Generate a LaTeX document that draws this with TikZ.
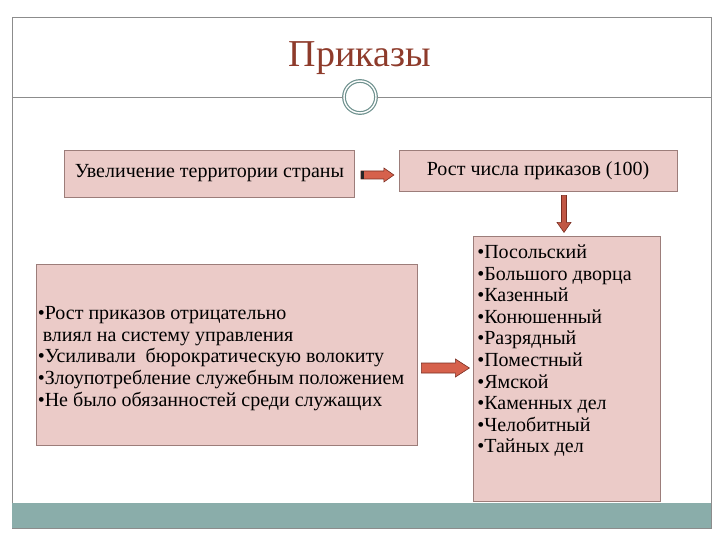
\documentclass[tikz,border=0pt]{standalone}
\usepackage{fontspec}
\setmainfont{Liberation Serif}
\usetikzlibrary{calc}
\definecolor{framec}{HTML}{8C8C8C}
\definecolor{bandc}{HTML}{8AADAA}
\definecolor{ornc}{HTML}{6E918E}
\definecolor{titlec}{HTML}{8E3B2B}
\definecolor{boxfill}{HTML}{EBCBC8}
\definecolor{boxline}{HTML}{9C7D7A}
\definecolor{arrfill}{HTML}{D6614C}
\definecolor{arrline}{HTML}{7A2E22}
\tikzset{
  pinkbox/.style={draw=boxline, fill=boxfill, line width=0.8pt, inner sep=0pt},
  boxtext/.style={font=\fontsize{20}{21.6}\selectfont, text=black},
  listtext/.style={font=\fontsize{20}{21.6}\selectfont, text=black, align=left, inner sep=0pt},
  arrowshape/.style={fill=arrfill, draw=arrline, line width=0.6pt, line join=miter},
}
\begin{document}
\begin{tikzpicture}[x=1pt,y=-1pt]
\useasboundingbox (0,0) rectangle (720,540);
% frame and band
\draw[framec, line width=0.8pt] (12,17) rectangle (711,528);
\fill[bandc] (12,503) rectangle (711,528);
% title
\node[font=\fontsize{38}{40}\selectfont, text=titlec] (title) at (360,58) {Приказы};
% header rule with ornament
\node[circle, draw=ornc, line width=1.2pt, double=white, double distance=1.4pt, fill=white, minimum size=32pt, inner sep=0pt] (orn) at (360,97) {};
\coordinate (hl) at (12,97);
\coordinate (hr) at (711,97);
\draw[framec, line width=0.9pt] (hl) -- (orn.west);
\draw[framec, line width=0.9pt] (orn.east) -- (hr);
% boxes
\node[pinkbox, boxtext, minimum width=290pt, minimum height=47pt] (b1) at (209.5,173.5) {Увеличение территории страны};
\node[pinkbox, boxtext, minimum width=278pt, minimum height=41pt] (b2) at (538,170.5) {Рост числа приказов (100)};
\node[pinkbox, minimum width=381pt, minimum height=181pt] (b4) at (226.5,354.5) {};
\node[pinkbox, minimum width=187pt, minimum height=265pt] (b3) at (567,368.5) {};
% texts in big boxes
\node[listtext, anchor=west] (t4) at ($(b4.west)+(2,4)$) {•Рост приказов отрицательно\\
\ влиял на систему управления\\
•Усиливали\ \ бюрократическую волокиту\\
•Злоупотребление служебным положением\\
•Не было обязанностей среди служащих};
\node[listtext, anchor=north west] (t3) at ($(b3.north west)+(4,9)$) {•Посольский\\
•Большого дворца\\
•Казенный\\
•Конюшенный\\
•Разрядный\\
•Поместный\\
•Ямской\\
•Каменных дел\\
•Челобитный\\
•Тайных дел};
% arrow 1: b1 -> b2
\coordinate (a1) at ($(b1.east)+(6,1.5)$);
\filldraw[arrowshape] (a1) ++(0,-4) -- ++(23,0) -- ++(0,-3) -- ++(10,7) -- ++(-10,7) -- ++(0,-3) -- ++(-23,0) -- cycle;
\fill[black!85] (a1) ++(0,-4) rectangle ++(3,8);
% arrow 2: b2 -> b3
\coordinate (a2) at ($(b2.south)+(26,4)$);
\filldraw[arrowshape, fill=arrfill!90!black] (a2) ++(-2.5,0) -- ++(0,27) -- ++(-4.5,0) -- ++(7,10) -- ++(7,-10) -- ++(-4.5,0) -- ++(0,-27) -- cycle;
% arrow 3: b4 -> b3
\coordinate (a3) at ($(b4.east)+(4,13.5)$);
\filldraw[arrowshape] (a3) ++(0,-5) -- ++(34,0) -- ++(0,-4) -- ++(14,9) -- ++(-14,9) -- ++(0,-4) -- ++(-34,0) -- cycle;
\end{tikzpicture}
\end{document}
